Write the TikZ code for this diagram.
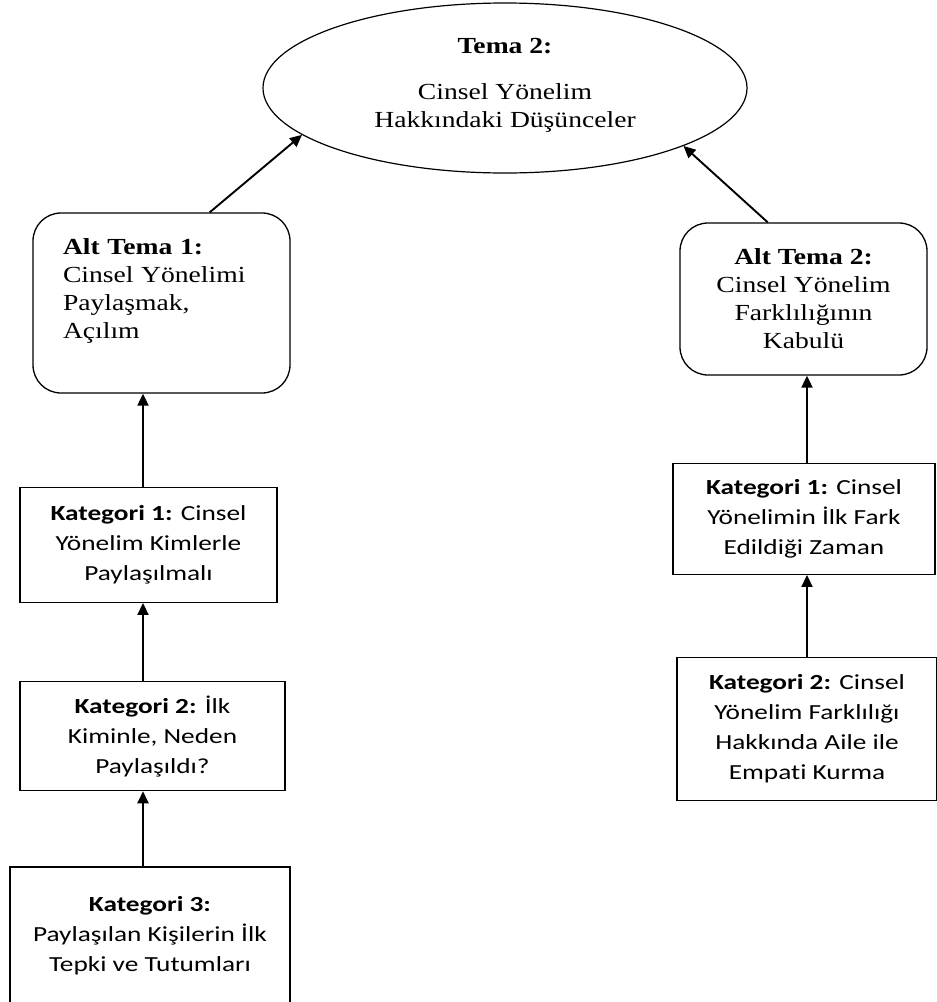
\documentclass[tikz,border=0pt]{standalone}
\usepackage{fontspec}
\setmainfont{Liberation Serif}[FakeStretch=1.2]
\newfontfamily\calfont{Carlito}[FakeStretch=1.27, Ligatures=NoCommon]
\usetikzlibrary{shapes.geometric, arrows.meta, positioning}

\begin{document}
\begin{tikzpicture}[ % coordinates in pixels of the page
    x=1pt, y=-1pt,
    tema/.style={ellipse, draw, line width=1.2pt, inner sep=0pt, minimum width=484pt, minimum height=170pt, font=\fontsize{23}{28}\selectfont},
    alttema/.style={rectangle, draw, line width=1.3pt, rounded corners=28pt, inner sep=0pt, font=\fontsize{23}{28}\selectfont},
    kategori/.style={rectangle, draw, line width=1.3pt, inner sep=0pt, align=center, font=\calfont\fontsize{21.5}{30}\selectfont},
    line/.style={draw, line width=1.9pt, -{Triangle[length=12pt, width=11pt]}}
    ]

    \useasboundingbox (0,0) rectangle (937,1002);

    % Theme
    \node [tema] (tema) at (505,88) {\raisebox{-3pt}[0pt][0pt]{\begin{tabular}{@{}c@{}}\textbf{Tema 2:}\\[18pt] Cinsel Yönelim\\Hakkındaki Düşünceler\end{tabular}}};

    % Sub-themes
    \node [alttema, minimum width=257pt, minimum height=180pt, text width=197pt, align=left] (altL) at (161.5,303) {\textbf{Alt Tema 1:}\\Cinsel Yönelimi\\Paylaşmak,\\Açılım\\~}; % empty last line pushes text up
    \node [alttema, minimum width=247pt, minimum height=152pt, align=center] (altR) at (803.5,299) {\textbf{Alt Tema 2:}\\Cinsel Yönelim\\Farklılığının\\Kabulü};

    % Left column categories
    \node [kategori, below=93pt of altL, xshift=-13pt, minimum width=257pt, minimum height=115pt] (kat1L) {\textbf{Kategori 1:} Cinsel\\Yönelim Kimlerle\\Paylaşılmalı};
    \node [kategori, below=78pt of kat1L, xshift=4pt, minimum width=265pt, minimum height=109pt] (kat2L) {\textbf{Kategori 2:} İlk\\Kiminle, Neden\\Paylaşıldı?};
    \node [kategori, below=75pt of kat2L, xshift=-2.5pt, minimum width=280pt, minimum height=137pt] (kat3L) {\textbf{Kategori 3:}\\Paylaşılan Kişilerin İlk\\Tepki ve Tutumları};

    % Right column categories
    \node [kategori, below=87pt of altR, xshift=0.5pt, minimum width=262pt, minimum height=111pt] (kat1R) {\textbf{Kategori 1:} Cinsel\\Yönelimin İlk Fark\\Edildiği Zaman};
    \node [kategori, below=82pt of kat1R, xshift=3pt, minimum width=260pt, minimum height=143pt] (kat2R) {\textbf{Kategori 2:} Cinsel\\Yönelim Farklılığı\\Hakkında Aile ile\\Empati Kurma};

    % Draw edges
    \path [line] (altL.62) -- (tema.193);
    \path [line] (altR.115) -- (tema.342);
    \path [line] ([xshift=-5.5pt]kat1L.north) -- ([xshift=-5.5pt]kat1L.north |- altL.south);
    \path [line] ([xshift=-9.5pt]kat2L.north) -- ([xshift=-9.5pt]kat2L.north |- kat1L.south);
    \path [line] ([xshift=-7pt]kat3L.north) -- ([xshift=-7pt]kat3L.north |- kat2L.south);
    \path [line] ([xshift=3pt]kat1R.north) -- ([xshift=3pt]kat1R.north |- altR.south);
    \path [line] (kat2R.north) -- (kat2R.north |- kat1R.south);

\end{tikzpicture}
\end{document}
